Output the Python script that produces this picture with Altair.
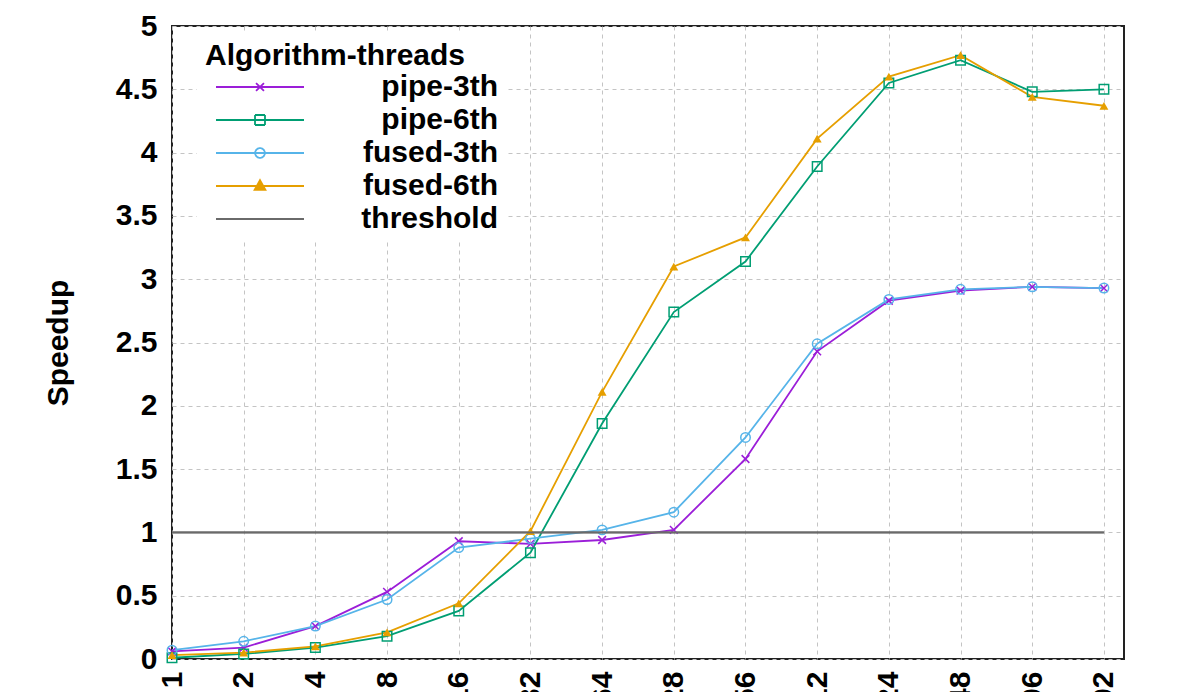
import json
import math

import altair as alt
import pandas as pd


X_LABELS = ["1", "2", "4", "8", "16", "32", "64", "128", "256", "512", "1024", "2048", "4096", "8192"]

SERIES = ["pipe-3th", "pipe-6th", "fused-3th", "fused-6th", "threshold"]
COLORS = ["#9b1ed8", "#009e73", "#56b4e9", "#e69f00", "#6a6a6a"]

PIPE_3TH = [0.06, 0.09, 0.26, 0.53, 0.93, 0.91, 0.94, 1.02, 1.58, 2.43, 2.83, 2.91, 2.94, 2.93]
PIPE_6TH = [0.01, 0.04, 0.09, 0.18, 0.38, 0.84, 1.86, 2.74, 3.14, 3.89, 4.55, 4.73, 4.48, 4.50]
FUSED_3TH = [0.07, 0.14, 0.26, 0.47, 0.88, 0.95, 1.02, 1.16, 1.75, 2.49, 2.84, 2.92, 2.94, 2.93]
FUSED_6TH = [0.03, 0.05, 0.10, 0.21, 0.44, 1.01, 2.11, 3.10, 3.33, 4.11, 4.60, 4.77, 4.44, 4.37]
THRESHOLD = [1.0, 1.0, 1.0, 1.0, 1.0, 1.0, 1.0, 1.0, 1.0, 1.0, 1.0, 1.0, 1.0, 1.0]

Y_TICKS = [0, 0.5, 1, 1.5, 2, 2.5, 3, 3.5, 4, 4.5, 5]

FONT = "Liberation Sans"

# markers on the curves (gnuplot-like)
MARKERS = {
    "pipe-3th": ("M-1,-1L1,1M-1,1L1,-1", False, 60),
    "pipe-6th": ("square", False, 90),
    "fused-3th": ("circle", False, 90),
    "fused-6th": ("triangle-up", True, 80),
}


def open_circle(r, n=14):
    # separate segments so the legend fill does not fill the ring
    pts = [(r * math.cos(2 * math.pi * k / n), r * math.sin(2 * math.pi * k / n)) for k in range(n + 1)]
    return "".join(f"M{a[0]:.3f},{a[1]:.3f}L{b[0]:.3f},{b[1]:.3f}" for a, b in zip(pts, pts[1:]))


# legend symbols: a line sample (-3..3) with the marker in the middle
LEGEND_SHAPES = [
    "M-3,0H3M-0.27,-0.27L0.27,0.27M-0.27,0.27L0.27,-0.27",
    "M-0.34,-0.34H0.34M0.34,-0.34V0.34M0.34,0.34H-0.34M-0.34,0.34V-0.34M-3,0H3",
    "M-3,0H3" + open_circle(0.34),
    "M-3,0H3M0,-0.4L0.37,0.27L-0.37,0.27Z",
    "M-3,0H3",
]

rows = []
for name, values in zip(SERIES, [PIPE_3TH, PIPE_6TH, FUSED_3TH, FUSED_6TH, THRESHOLD]):
    for i, v in enumerate(values):
        rows.append({"series": name, "idx": i, "speedup": v})
data = pd.DataFrame(rows)

x = alt.X(
    "idx:Q",
    title=None,
    scale=alt.Scale(domain=[0, 13.28], nice=False, zero=False),
    axis=alt.Axis(
        values=list(range(len(X_LABELS))),
        labelExpr=f"{json.dumps(X_LABELS)}[datum.value]",
        labelAngle=270,
        labelAlign="right",
        labelBaseline="middle",
        labelPadding=12,
        ticks=False,
        domain=False,
    ),
)
y = alt.Y(
    "speedup:Q",
    title="Speedup",
    scale=alt.Scale(domain=[0, 5], nice=False),
    axis=alt.Axis(values=Y_TICKS, format="~g", ticks=False, domain=False,
                  labelPadding=15, titlePadding=42),
)
legend = alt.Legend(title="Algorithm-threads")
color = alt.Color("series:N", sort=SERIES, scale=alt.Scale(domain=SERIES, range=COLORS), legend=legend)

base = alt.Chart(data)

legend_layer = base.transform_filter("datum.idx == 0").mark_point(opacity=0, filled=False).encode(
    x=x,
    y=y,
    color=color,
    shape=alt.Shape("series:N", sort=SERIES, scale=alt.Scale(domain=SERIES, range=LEGEND_SHAPES), legend=legend),
)

lines = base.mark_line(strokeWidth=1.8).encode(x=x, y=y, color=color, order="idx:Q")

layers = [legend_layer, lines]
for name, (shape, filled, size) in MARKERS.items():
    layers.append(
        base.transform_filter(alt.datum.series == name)
        .mark_point(shape=shape, filled=filled, size=size, strokeWidth=1.5, opacity=1)
        .encode(x=x, y=y, color=color)
    )
# threshold drawn on top
layers.append(base.transform_filter(alt.datum.series == "threshold").mark_line(strokeWidth=2).encode(x=x, y=y, color=color))

chart = (
    alt.layer(*layers)
    .properties(
        width=952,
        height=633,
        autosize=alt.AutoSizeParams(type="none"),
        padding={"left": 164, "top": 18, "right": 68, "bottom": 130},
    )
    .configure_view(stroke="#222222", strokeWidth=2)
    .configure_axis(
        labelFont=FONT,
        labelFontSize=30,
        labelFontWeight="bold",
        labelColor="#000000",
        titleFont=FONT,
        titleFontSize=30,
        titleFontWeight="bold",
        titleColor="#000000",
        grid=True,
        gridColor="#c4c4c4",
        gridDash=[4, 4],
        gridWidth=1,
    )
    .configure_legend(
        orient="none",
        legendX=25,
        legendY=7,
        padding=8,
        fillColor="#ffffff",
        titleFont=FONT,
        titleFontSize=30,
        titleFontWeight="bold",
        titleColor="#000000",
        titlePadding=0,
        titleLimit=400,
        labelFont=FONT,
        labelFontSize=30,
        labelFontWeight="bold",
        labelColor="#000000",
        labelAlign="right",
        labelOffset=222,
        labelLimit=400,
        symbolSize=860,
        symbolStrokeWidth=1.8,
        symbolOffset=39,
        rowPadding=2,
    )
)

chart.save("out.html", embed_options={"renderer": "svg", "actions": False})
